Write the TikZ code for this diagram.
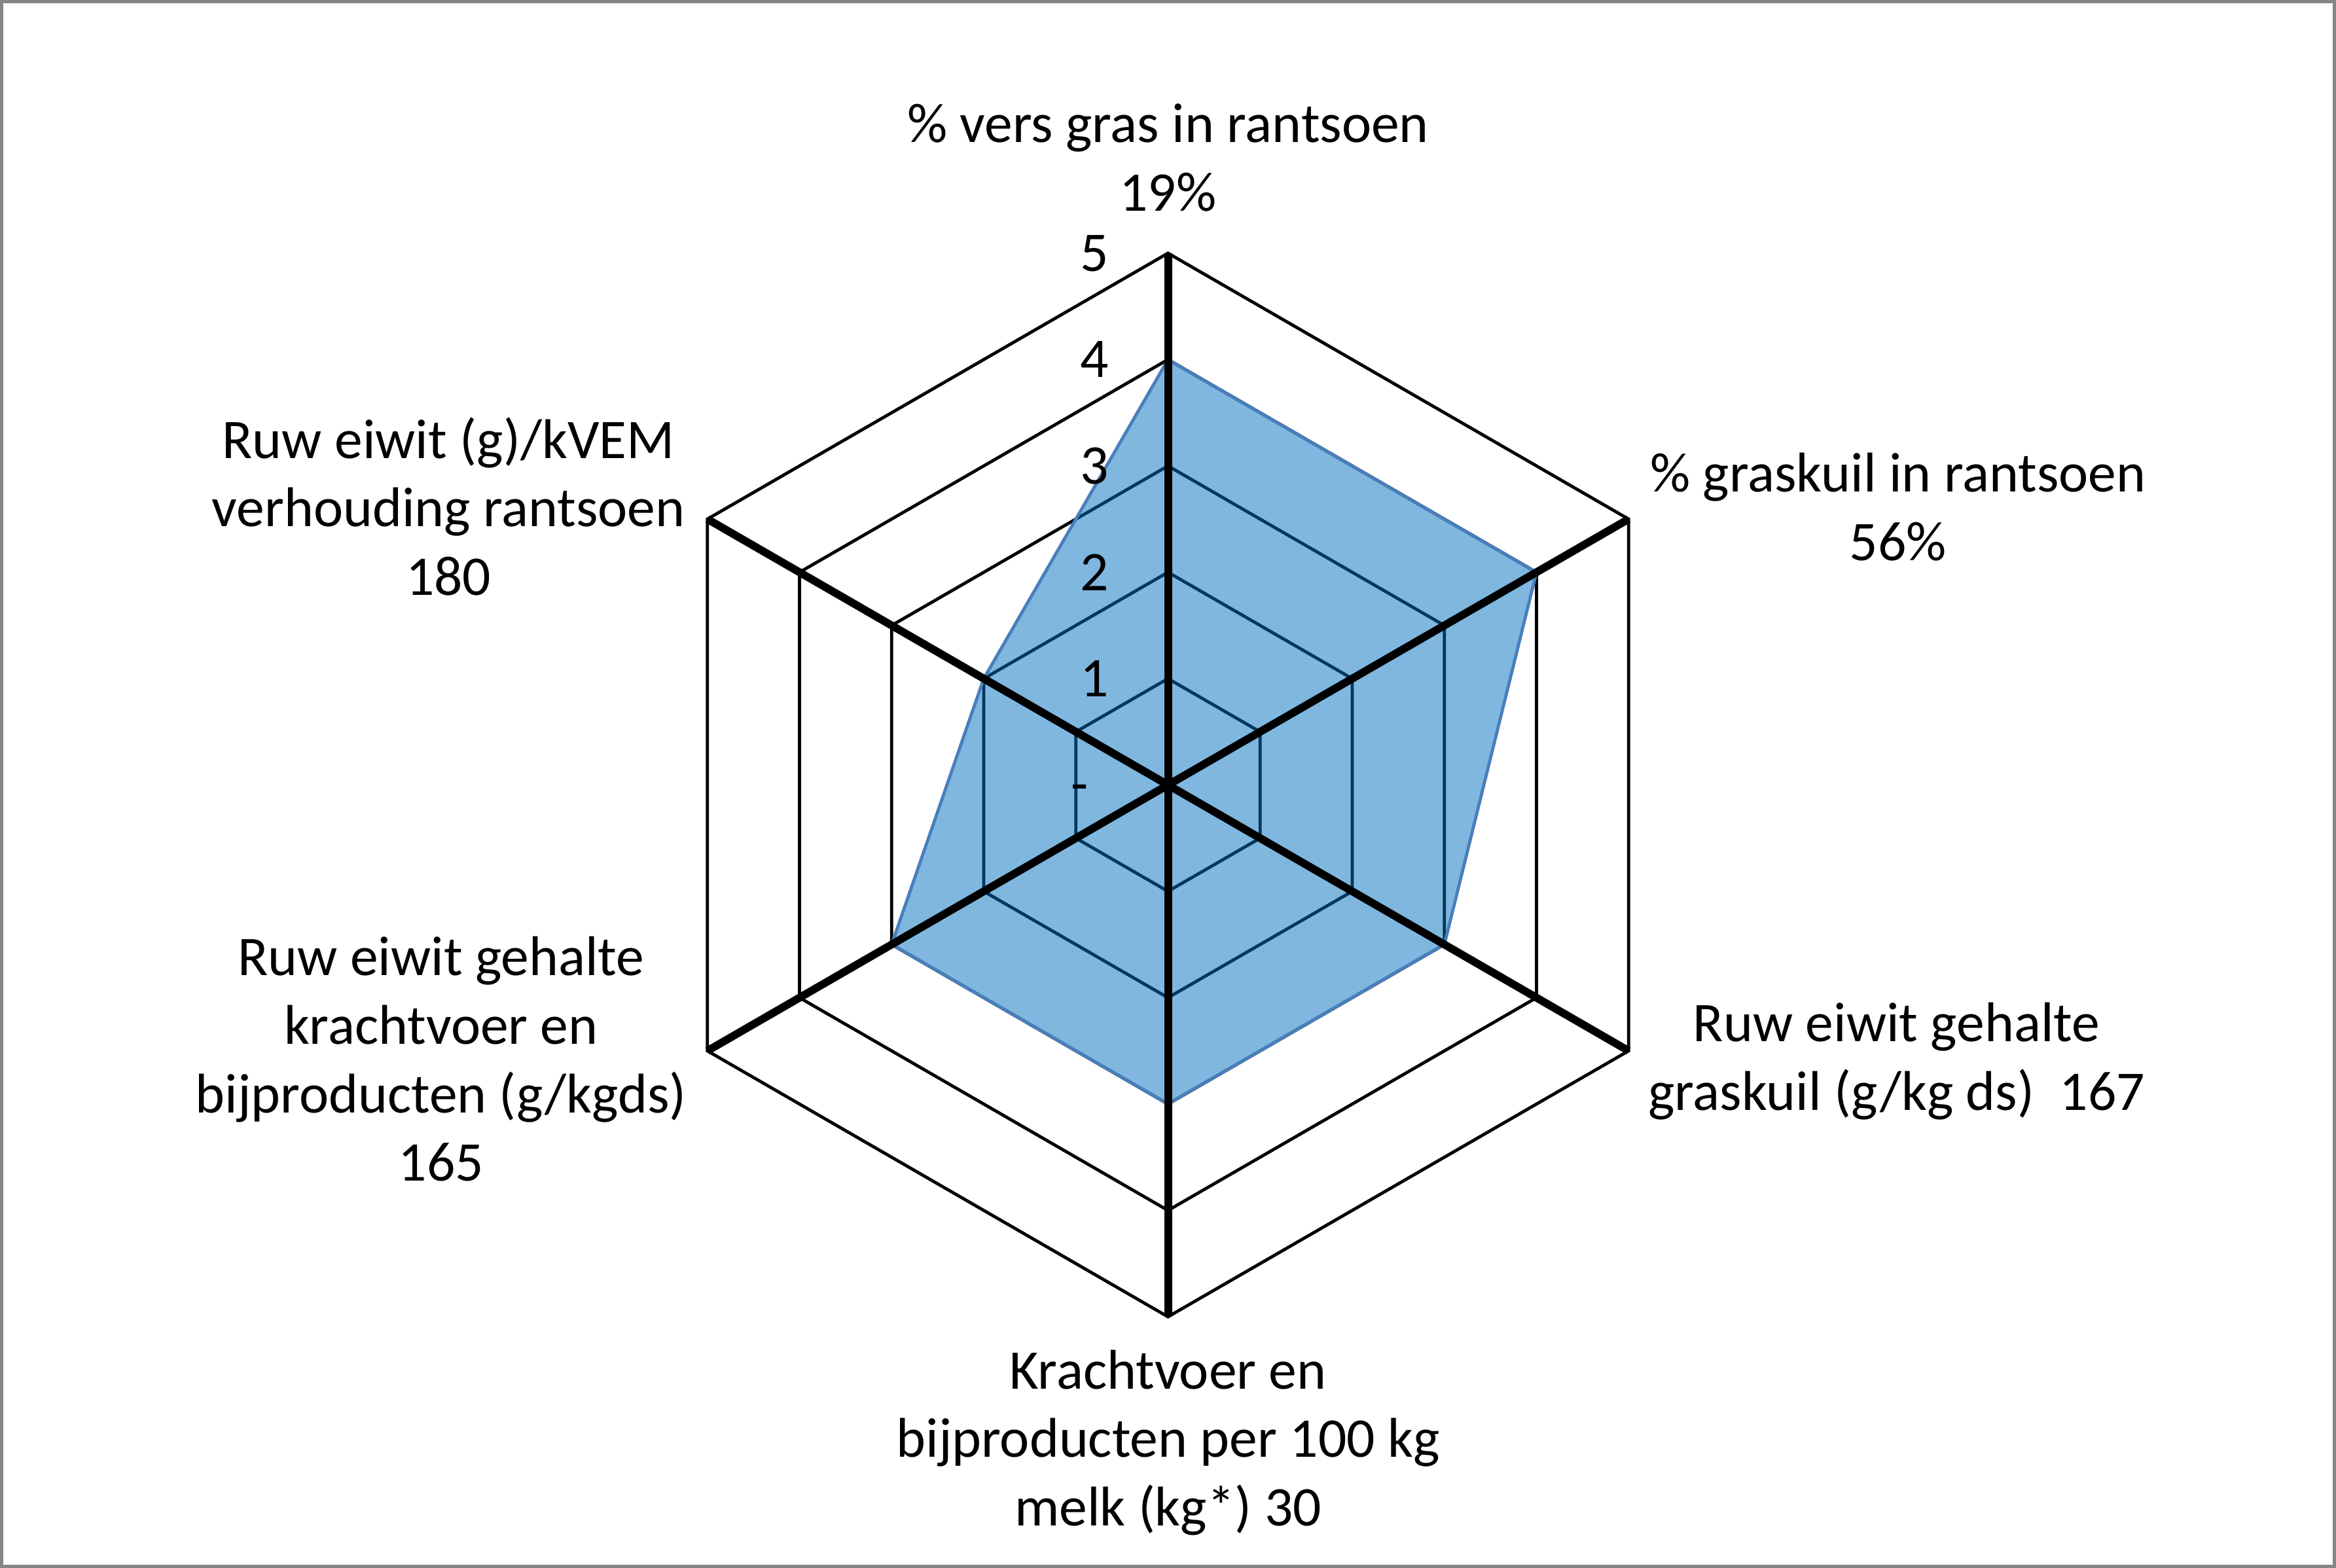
\documentclass[tikz,border=0pt]{standalone}
\usepackage{fontspec}
\setmainfont{Carlito}
\usetikzlibrary{positioning}
\definecolor{radarfill}{RGB}{0,112,192}
\definecolor{radaredge}{RGB}{74,126,187}
\definecolor{framegray}{RGB}{134,134,134}

\begin{document}
\begin{tikzpicture}
    [
    grid/.style={black,line width=0.6pt},
    spoke/.style={black,line width=1.5pt},
    axislabel/.style={align=center,inner sep=0pt,font=\fontsize{10.7}{13.1}\selectfont},
    ticklabel/.style={anchor=east,inner sep=0pt,font=\fontsize{10.7}{13.1}\selectfont}
    ]
    \useasboundingbox (-7.84,-5.256) rectangle (7.84,5.27);
    \draw [framegray, line width=0.6pt] (-7.83,-5.246) rectangle (7.83,5.26);

    % corners of the hexagons, level 0 to 5
    \foreach \l in {0,...,5}
      \foreach \k in {0,...,5}
        \coordinate (v\l\k) at ({90-60*\k}:{0.714*\l});

    \foreach \l in {1,...,5}
      \draw [grid] (v\l0) -- (v\l1) -- (v\l2) -- (v\l3) -- (v\l4) -- (v\l5) -- cycle;

    % scores 4 4 3 3 3 2
    \draw [fill=radarfill, fill opacity=0.5, draw=radaredge, line width=0.6pt]
      (v40) -- (v41) -- (v32) -- (v33) -- (v34) -- (v25) -- cycle;

    \foreach \k in {0,...,5}
      \draw [spoke] (v00) -- (v5\k);

    \node (t0) at (-0.53,-0.06) [ticklabel] {-};
    \foreach \l in {1,...,5}
      \node (t\l) at (-0.39,{0.714*\l}) [ticklabel] {\l};

    \node (gras) at (0,4.21) [axislabel] {\% vers gras in rantsoen\\19\%};
    \node (kuil) at (4.90,1.865) [axislabel] {\% graskuil in rantsoen\\56\%};
    \node (rekuil) at (4.89,-1.855) [axislabel] {Ruw eiwit gehalte\\graskuil (g/kg ds)\ \ 167};
    \node (kv) at (0,-4.415) [axislabel] {Krachtvoer en\\bijproducten per 100 kg\\melk (kg*) 30};
    \node (rekv) at (-4.88,-1.84) [axislabel] {Ruw eiwit gehalte\\krachtvoer en\\bijproducten (g/kgds)\\165};
    \node (vem) at (-4.83,1.87) [axislabel] {Ruw eiwit (g)/kVEM\\verhouding rantsoen\\180};
\end{tikzpicture}
\end{document}
